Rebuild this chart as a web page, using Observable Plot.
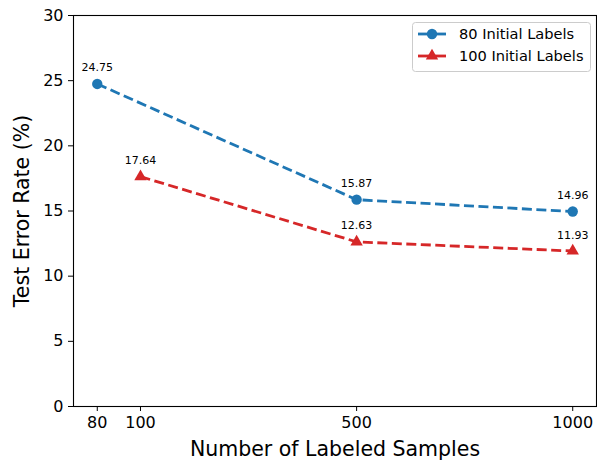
<!DOCTYPE html>
<html>
<head>
<meta charset="utf-8">
<script src="https://cdn.jsdelivr.net/npm/d3@7"></script>
<script src="https://cdn.jsdelivr.net/npm/@observablehq/plot@0.6"></script>
<style>
  body { margin: 0; background: #fff; }
  svg { font-family: "DejaVu Sans", sans-serif; }
</style>
</head>
<body>
<div id="chart"></div>
<script>
// Data
const tickLabels = ["80", "100", "500", "1000"];
const tickSlots = [0, 1, 6, 11]; // axis slot index for each labeled sample count (non-uniform axis in original)
const series80Samples = ["80", "500", "1000"];
const series80Values = [24.75, 15.87, 14.96];
const series100Samples = ["100", "500", "1000"];
const series100Values = [17.64, 12.63, 11.93];
const seriesNames = ["80 Initial Labels", "100 Initial Labels"];
const seriesColors = ["#1f77b4", "#d62728"];

const slotOf = s => tickSlots[tickLabels.indexOf(s)];
const rows80 = series80Samples.map((s, i) => ({x: slotOf(s), y: series80Values[i], series: seriesNames[0]}));
const rows100 = series100Samples.map((s, i) => ({x: slotOf(s), y: series100Values[i], series: seriesNames[1]}));

const triR = 4.6;
const chart = Plot.plot({
  width: 597,
  height: 463,
  marginLeft: 73,
  marginRight: 1,
  marginTop: 15,
  marginBottom: 57,
  style: {fontFamily: "DejaVu Sans, sans-serif", background: "#fff"},
  x: {domain: [-0.55, 11.55]},
  y: {domain: [0, 30]},
  marks: [
    Plot.axisX({ticks: tickSlots, tickFormat: d => tickLabels[tickSlots.indexOf(d)], tickSize: 5, tickPadding: 5, fontSize: 16, label: null, stroke: "#000", color: "#000"}),
    Plot.axisY({ticks: d3.range(0, 31, 5), tickSize: 5, tickPadding: 5, fontSize: 16, label: null, color: "#000"}),
    Plot.line(rows80, {x: "x", y: "y", stroke: seriesColors[0], strokeWidth: 2.8, strokeDasharray: "10,4.5", strokeLinecap: "butt"}),
    Plot.line(rows100, {x: "x", y: "y", stroke: seriesColors[1], strokeWidth: 2.8, strokeDasharray: "10,4.5", strokeLinecap: "butt"}),
    Plot.dot(rows80, {x: "x", y: "y", fill: seriesColors[0], r: 5.2, symbol: "circle"}),
    Plot.dot(rows100, {x: "x", y: "y", fill: seriesColors[1], r: triR, symbol: "triangle"}),
    Plot.text(rows80, {x: "x", y: "y", text: d => d.y.toFixed(2), dy: -16, fontSize: 11, fill: "#000"}),
    Plot.text(rows100, {x: "x", y: "y", text: d => d.y.toFixed(2), dy: -16, fontSize: 11, fill: "#000"}),
    Plot.frame({stroke: "#000", strokeWidth: 1.1}),
    Plot.text(["Number of Labeled Samples"], {frameAnchor: "bottom", dy: 49, fontSize: 20.5, fill: "#000"}),
    Plot.text(["Test Error Rate (%)"], {frameAnchor: "left", textAnchor: "middle", dx: -51, rotate: -90, fontSize: 20.5, fill: "#000"})
  ]
});

// Legend (inside the plot, upper right)
const svg = d3.select(chart);
const lg = svg.append("g").attr("transform", "translate(412,22)");
lg.append("rect").attr("x", 0.5).attr("y", 0.5).attr("width", 178).attr("height", 49).attr("rx", 3)
  .attr("fill", "#fff").attr("fill-opacity", 0.8).attr("stroke", "#ccc");
seriesNames.forEach((name, i) => {
  const y = 12 + i * 22;
  lg.append("line").attr("x1", 6).attr("x2", 34).attr("y1", y).attr("y2", y)
    .attr("stroke", seriesColors[i]).attr("stroke-width", 2.8);
  if (i === 0) {
    lg.append("circle").attr("cx", 20).attr("cy", y).attr("r", 5.2).attr("fill", seriesColors[i]);
  } else {
    lg.append("path").attr("transform", `translate(20,${y})`)
      .attr("d", d3.symbol(d3.symbolTriangle, Math.PI * triR * triR)()).attr("fill", seriesColors[i]);
  }
  lg.append("text").attr("x", 47).attr("y", y).attr("dy", "0.35em").attr("font-size", 14.6)
    .attr("text-anchor", "start").attr("fill", "#000").text(name);
});

document.getElementById("chart").appendChild(chart);
</script>
</body>
</html>
